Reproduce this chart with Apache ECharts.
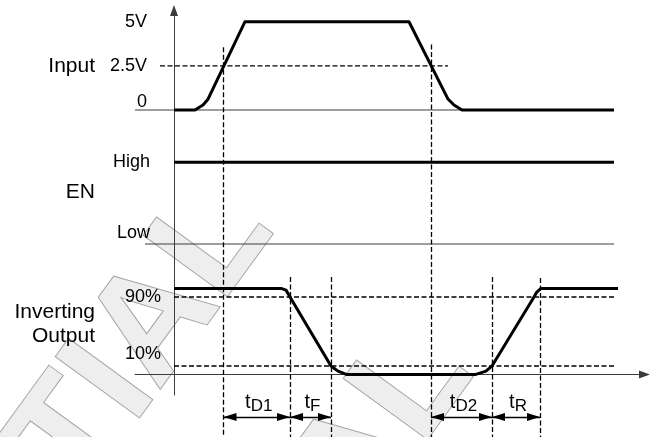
<!DOCTYPE html>
<html>
<head>
<meta charset="utf-8">
<script src="https://cdn.jsdelivr.net/npm/echarts@6/dist/echarts.min.js"></script>
<style>
  html, body { margin: 0; padding: 0; background: #fff; }
  #chart { width: 657px; height: 437px; }
</style>
</head>
<body>
<div id="chart"></div>
<script>
// ---- Timing data (time in arbitrary units, 0 = start of the traces) ----
const inputTime  = [0, 21, 29, 34, 71, 235, 274, 280, 288, 440];
const inputVolts = [0, 0, 0.28, 0.61, 5, 5, 0.62, 0.28, 0, 0];
const inputTickLabels = ['0', '2.5V', '5V'];          // at 0, 2.5 and 5 V
const inputThreshold = 2.5;                           // V
const inputThresholdSpan = [-14, 274];
const inputZeroSpan = [-39, 440];

const enTime  = [0, 440];
const enLevel = [1, 1];                               // 1 = High, 0 = Low
const enTickLabels = ['Low', 'High'];
const enLowSpan = [-29, 440];

const outTime = [0, 107, 112, 116, 157, 164, 173, 301, 312, 318, 360, 363, 367, 444];
const outPct  = [100, 100, 98, 90, 10, 4, 0, 0, 4, 10, 90, 96, 100, 100];
const outThresholds = [10, 90];                       // %
const outThresholdSpan = [0, 440];

// timing reference edges: time and where the guide starts (% of diagram height)
const edgeTimes = [49.5, 257, 116, 157, 318, 366];
const edgeTops  = [89.2, 89.8, 36.6, 36.6, 36.6, 36.4];

// measured intervals
const intervalNames = ['t', 't', 't', 't'];
const intervalSubs  = ['D1', 'F', 'D2', 'R'];
const intervalFrom  = [49.5, 116, 257, 318];
const intervalTo    = [116, 157, 318, 366];
const dimensionRow  = 4.6;                            // % of diagram height
const dimensionTextRow = 6.4;

const signalNames = ['Input', 'EN', 'Inverting', 'Output'];

// ---- Styling ----
const FONT = '"Liberation Sans", Arial, Helvetica, sans-serif';
const INK = '#000';
const THIN = '#3c3c3c';
const T_MIN = -39, T_MAX = 470.5;                     // one time unit per pixel across the grid

const pair = (xs, ys) => xs.map((x, i) => [x, ys[i]]);
const box = (top, bottom) => ({ left: 135, right: 12.5, top, bottom, containLabel: false, outerBoundsMode: 'none' });

const chart = echarts.init(document.getElementById('chart'), null, { renderer: 'canvas' });

const hiddenX = (gi) => ({ type: 'value', gridIndex: gi, min: T_MIN, max: T_MAX, show: false, splitLine: { show: false } });
// level axes are shifted from the grid edge onto t = 0 (|T_MIN| time units to the right)
const levelAxis = (gi, min, max, interval, margin, formatter, rich) => ({
  type: 'value', gridIndex: gi, min, max, interval, offset: T_MIN,
  axisLine: { show: false, onZero: false },
  axisTick: { show: false },
  splitLine: { show: false },
  axisLabel: { show: true, margin, fontSize: 18, fontFamily: FONT, color: INK, formatter, rich }
});
const raised = (pad) => ({ padding: [0, 0, pad, 0], fontSize: 18, fontFamily: FONT, color: INK });

const plainLine = (xi, data, style, z) => ({
  type: 'line', xAxisIndex: xi, yAxisIndex: xi, data, symbol: 'none', showSymbol: false,
  clip: false, silent: true, animation: false, z,
  lineStyle: Object.assign({ color: INK, width: 1, join: 'round', cap: 'butt' }, style)
});
const dashed = { color: INK, width: 1.3, type: [5, 2.5] };
const arrowEnd = (t) => ({ coord: [t, dimensionRow], symbol: 'triangle', symbolSize: [8, 13], symbolOffset: [0, 6.5] });

const option = {
  backgroundColor: '#fff',
  animation: false,
  grid: [
    box(10.5, 42),        // 0: time-origin axis
    box(21.7, 327),       // 1: Input
    box(162.3, 193),      // 2: EN
    box(288.4, 62.4),     // 3: Inverting output
    box(0, 0)             // 4: timing guides
  ],
  xAxis: [
    hiddenX(0), hiddenX(1), hiddenX(2),
    {
      type: 'value', gridIndex: 3, min: T_MIN, max: T_MAX,
      axisLine: { show: true, onZero: true, symbol: ['none', 'triangle'], symbolSize: [8, 11],
                  lineStyle: { color: THIN, width: 1 } },
      axisTick: { show: false }, axisLabel: { show: false }, splitLine: { show: false }
    },
    hiddenX(4)
  ],
  yAxis: [
    {
      type: 'value', gridIndex: 0, min: 0, max: 1,
      axisLine: { show: true, onZero: true, symbol: ['none', 'triangle'], symbolSize: [8, 11],
                  lineStyle: { color: THIN, width: 1 } },
      axisTick: { show: false }, axisLabel: { show: false }, splitLine: { show: false }
    },
    levelAxis(1, 0, 5, 2.5, 27,
      v => { const s = inputTickLabels[Math.round(v / 2.5)]; return v === 0 ? '{up|' + s + '}' : s; },
      { up: raised(16) }),
    levelAxis(2, 0, 1, 1, 24,
      v => { const s = enTickLabels[Math.round(v)]; return v === 0 ? '{up|' + s + '}' : s; },
      { up: raised(22) }),
    levelAxis(3, 0, 100, 10, 13,
      v => outThresholds.indexOf(v) < 0 ? '' : (v === 10 ? '{up|' + v + '%}' : v + '%'),
      { up: raised(24) }),
    { type: 'value', gridIndex: 4, min: 0, max: 100, show: false, splitLine: { show: false } }
  ],
  series: [
    // reference levels
    plainLine(1, pair(inputZeroSpan, [0, 0]), { color: THIN }, 2),
    plainLine(2, pair(enLowSpan, [0, 0]), { color: THIN }, 2),
    // thresholds
    plainLine(1, pair(inputThresholdSpan, [inputThreshold, inputThreshold]), dashed, 3),
    plainLine(3, pair(outThresholdSpan, [outThresholds[1], outThresholds[1]]), dashed, 3),
    plainLine(3, pair(outThresholdSpan, [outThresholds[0], outThresholds[0]]), dashed, 3),
    // timing edges
    {
      type: 'lines', coordinateSystem: 'cartesian2d', xAxisIndex: 4, yAxisIndex: 4,
      polyline: false, silent: true, animation: false, z: 3,
      data: edgeTimes.map((t, i) => ({ coords: [[t, edgeTops[i]], [t, 0]] })),
      lineStyle: Object.assign({ opacity: 1 }, dashed)
    },
    // interval arrows
    {
      type: 'line', xAxisIndex: 4, yAxisIndex: 4, data: [], silent: true, animation: false, z: 3,
      markLine: {
        silent: true, animation: false,
        symbol: ['triangle', 'triangle'],
        label: { show: false },
        lineStyle: { color: INK, width: 1.4, type: 'solid' },
        itemStyle: { color: INK },
        emphasis: { disabled: true },
        data: intervalFrom.map((f, i) => [arrowEnd(f), arrowEnd(intervalTo[i])])
      }
    },
    // waveforms
    plainLine(1, pair(inputTime, inputVolts), { width: 3 }, 5),
    plainLine(2, pair(enTime, enLevel), { width: 3 }, 5),
    plainLine(3, pair(outTime, outPct), { width: 3 }, 5)
  ]
};

chart.setOption(option);

// ---- Text drawn with the graphic component ----
const name = (text, y) => ({
  type: 'text', x: 95, y, silent: true, z: 10,
  style: { text, fontSize: 21, fontFamily: FONT, fill: INK, align: 'right', verticalAlign: 'middle' }
});
// diagonal document stamp behind the diagram
const STAMP_SIZE = 150;
const watermark = (x, y) => ({
  type: 'group', x, y, rotation: 54 * Math.PI / 180, silent: true,
  children: [{
    type: 'text', x: 0, y: -0.3465 * STAMP_SIZE, z: -5, silent: true,
    style: { text: 'CONFIDENTIAL', fontSize: STAMP_SIZE, fontWeight: 'bold', fontFamily: FONT,
             fill: '#eeeeee', stroke: '#a3a3a3', lineWidth: 2, align: 'right', verticalAlign: 'middle' }
  }]
});

const measureCtx = document.createElement('canvas').getContext('2d');
const textWidth = (s, size) => { measureCtx.font = size + 'px ' + FONT; return measureCtx.measureText(s).width; };

const intervalLabels = [];
intervalFrom.forEach((f, i) => {
  const mid = chart.convertToPixel({ xAxisIndex: 4, yAxisIndex: 4 }, [(f + intervalTo[i]) / 2, dimensionTextRow]);
  const wMain = textWidth(intervalNames[i], 20);
  const wSub = textWidth(intervalSubs[i], 17);
  const left = mid[0] - (wMain + wSub) / 2 + 2;
  const baseline = mid[1];
  intervalLabels.push({
    type: 'text', x: left, y: baseline - 0.3465 * 20, silent: true, z: 10,
    style: { text: intervalNames[i], fontSize: 20, fontFamily: FONT, fill: INK, align: 'left', verticalAlign: 'middle' }
  });
  intervalLabels.push({
    type: 'text', x: left + wMain, y: baseline + 2.7 - 0.3465 * 17, silent: true, z: 10,
    style: { text: intervalSubs[i], fontSize: 17, fontFamily: FONT, fill: INK, align: 'left', verticalAlign: 'middle' }
  });
});

chart.setOption({
  graphic: [
    watermark(284, 236),
    watermark(484, 379),
    name(signalNames[0], 66),
    name(signalNames[1], 192),
    name(signalNames[2], 312.5),
    name(signalNames[3], 336)
  ].concat(intervalLabels)
});
</script>
</body>
</html>
